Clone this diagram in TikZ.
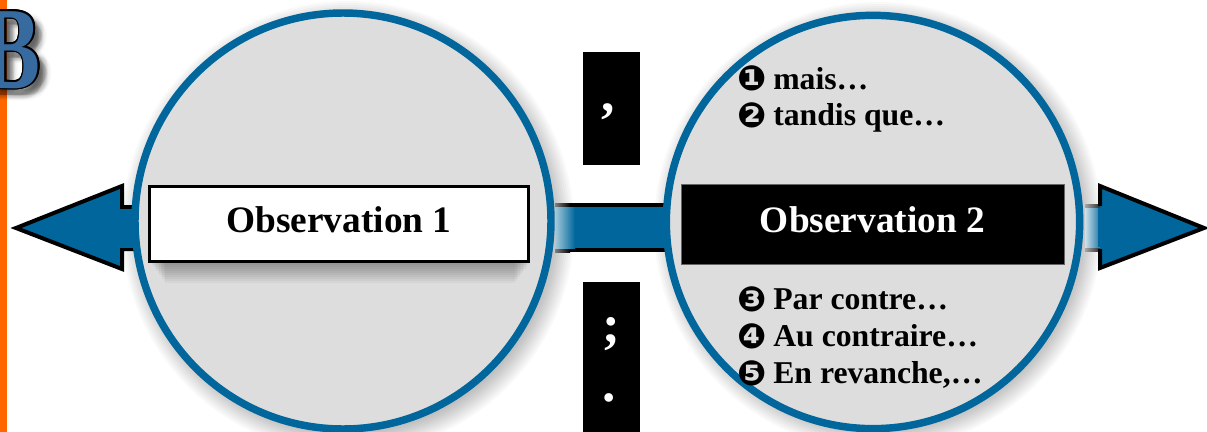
\documentclass[tikz,border=0pt]{standalone}
\usepackage{fontspec}
\setmainfont{Liberation Serif}
\newfontfamily\dejavu{DejaVu Sans}
\definecolor{bluem}{HTML}{00669B}
\definecolor{bluel}{HTML}{376A9E}
\definecolor{discg}{HTML}{DDDDDD}
\definecolor{orangem}{HTML}{FF6600}
\tikzset{
  x=0.75pt,y=-0.75pt,
  disc/.style={circle,draw=bluem,fill=discg,line width=5.6pt,minimum size=312pt,inner sep=0pt},
  obsA/.style={draw=black,line width=2.6pt,fill=white,minimum width=284pt,minimum height=56pt,inner sep=0pt},
  obsB/.style={fill=black,draw=black!60,line width=.5pt,minimum width=287pt,minimum height=60pt,inner sep=0pt},
  obstext/.style={inner sep=0pt,font=\bfseries\fontsize{28}{30}\selectfont},
  punct/.style={fill=black,minimum width=42.75pt,inner sep=0pt},
  mark glyph/.style={text=white,inner sep=0pt,font=\bfseries\fontsize{40}{40}\selectfont},
  itemline/.style={anchor=base west,inner sep=0pt,font=\bfseries\fontsize{23.8}{26}\selectfont},
  arrowfill/.style={fill=bluem,draw=black,line width=3pt,line join=miter,miter limit=10},
  bigB/.style={anchor=base east,inner sep=0pt,xscale=.74,font=\bfseries\fontsize{88}{90}\selectfont},
}
\newcommand{\softshadow}[3]{%
  \foreach \k in {0,...,15}{\fill[black,fill opacity=.022] (#1,#2) circle ({#3+14-2*\k});}}
\newcommand{\bul}[1]{\makebox[27pt][l]{\raisebox{-1.5pt}{\dejavu\fontsize{26}{26}\selectfont #1}}}
\begin{document}
\begin{tikzpicture}
\clip (0,0) rectangle (1207,432);
\fill[white] (0,0) rectangle (1207,432);
% orange rule
\fill[orangem] (0,0) rectangle (7,432);
% letter B with shadow, outline and fill
\foreach \k in {1,...,7}{
  \foreach \a in {0,60,...,300}{
    \node[bigB,text=black,opacity=.018] at ({43+.9*\k*cos(\a)+5},{89+.9*\k*sin(\a)+6}) {B};}}
\foreach \a in {0,30,...,330}{
  \node[bigB,text=black] at ({41+1.7*cos(\a)},{88+1.7*sin(\a)}) {B};}
\node[bigB,text=bluel] (letter) at (41,88) {B};
% shadows
\softshadow{348}{227}{212}
\softshadow{878}{226}{210}
% left arrow
\draw[arrowfill] (134,207) -- (122,207) -- (122,186) -- (16,228) -- (122,269) -- (122,249) -- (134,249);
\fill[bluem] (120,208.5) rectangle (140,247.5);
% centre shaft
\shade[left color=black!50,right color=black] (555,203) rectangle (570,252);
\fill[black] (570,203) rectangle (665,252);
\shade[left color=bluem!35,right color=bluem] (555,207) rectangle (575,248);
\fill[bluem] (575,207) rectangle (665,248);
% right arrow
\shade[left color=black!35,right color=black!85] (1085,204) rectangle (1101,251);
\shade[left color=bluem!20,right color=bluem] (1085,208) rectangle (1103,247);
\draw[arrowfill] (1100,206) -- (1100,186) -- (1204,228) -- (1100,268) -- (1100,249);
\fill[bluem] (1098,208) rectangle (1103,247);
% discs
\node[disc] (left) at (343,221) {};
\node[disc,minimum size=310pt] (right) at (873,222) {};
% observation boxes
\foreach \k in {1,...,10}{\fill[black,fill opacity=.035] ({150+1.5*\k},263) rectangle ({530-1.5*\k},{263+2*\k});}
\node[obsA] (obs1) at (339,224) {};
\node[obstext] (txt1) at (339,220) {Observation 1};
\node[obsB] (obs2) at (872.5,224) {};
\node[obstext,text=white] (txt2) at (872.5,220) {Observation 2};
% punctuation panels
\node[punct,minimum height=84.75pt] (p1) at (611.5,108.5) {};
\node[punct,minimum height=112.5pt] (p2) at (611.5,357) {};
\node[mark glyph] (comma) at (608,112) {,};
\node[mark glyph] (semi) at (611,334) {;};
\node[mark glyph] (dot) at (609,398) {.};
% items
\node[itemline] (i1) at (737,89) {\bul{❶}mais…};
\node[itemline] (i2) at (737,125) {\bul{❷}tandis que…};
\node[itemline] (i3) at (737,309) {\bul{❸}Par contre…};
\node[itemline] (i4) at (737,346) {\bul{❹}Au contraire…};
\node[itemline] (i5) at (737,383) {\bul{❺}En revanche,…};
\end{tikzpicture}
\end{document}
